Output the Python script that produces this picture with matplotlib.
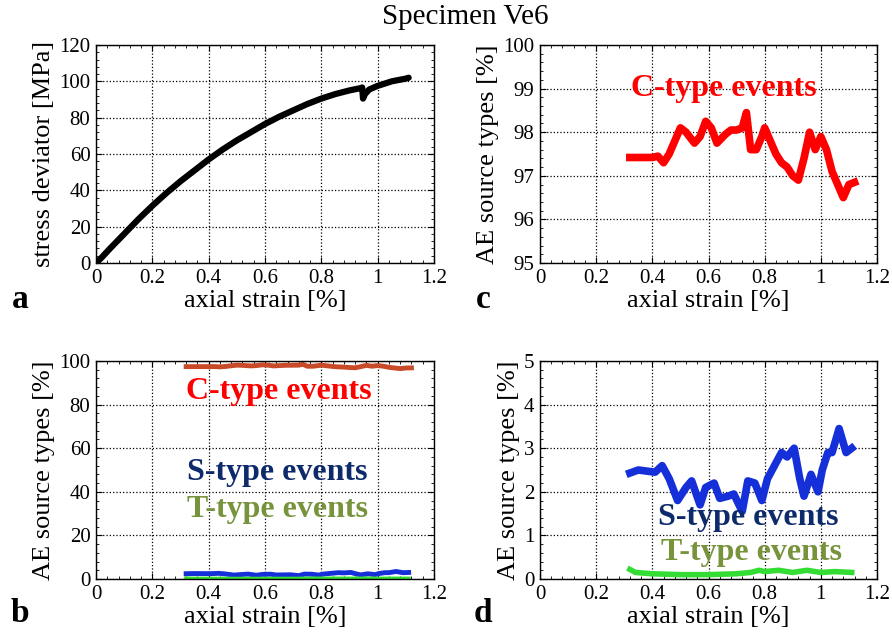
import numpy as np
import matplotlib
matplotlib.use("Agg")
import matplotlib.pyplot as plt
from matplotlib.ticker import AutoMinorLocator

plt.rcParams['font.family'] = ['Liberation Serif', 'DejaVu Serif']

# panel a: stress-strain curve
strain_a = [0, 0.02, 0.05, 0.1, 0.15, 0.2, 0.25, 0.3, 0.35, 0.4, 0.45, 0.5, 0.55,
            0.6, 0.65, 0.7, 0.75, 0.8, 0.85, 0.9, 0.94, 0.945, 0.948, 0.955, 0.97,
            1.0, 1.05, 1.1, 1.11]
stress_a = [0, 3, 8, 16, 24, 31.5, 38.5, 45, 51, 57, 62.5, 67.5, 72,
            76.5, 80.5, 84, 87.5, 90.5, 93, 95, 96.3, 96.6, 90.5, 93, 95.5,
            97.5, 100, 101.5, 102]

# C-type events (%)
strain_c = [0.32, 0.36, 0.40, 0.42, 0.44, 0.46, 0.48, 0.50, 0.52, 0.55, 0.57, 0.59,
            0.61, 0.63, 0.66, 0.68, 0.70, 0.72, 0.735, 0.75, 0.77, 0.79, 0.80, 0.82,
            0.84, 0.86, 0.88, 0.90, 0.92, 0.94, 0.96, 0.98, 1.00, 1.02, 1.04, 1.06,
            1.08, 1.10, 1.12]
c_type = [97.42, 97.42, 97.42, 97.45, 97.3, 97.5, 97.8, 98.1, 98.0, 97.75, 97.9, 98.25,
          98.1, 97.75, 97.95, 98.05, 98.05, 98.1, 98.45, 97.6, 97.6, 97.9, 98.1, 97.8,
          97.5, 97.3, 97.2, 97.0, 96.9, 97.4, 98.0, 97.6, 97.9, 97.6, 97.1, 96.8,
          96.5, 96.8, 96.85]

# S-type events (%)
strain_s = [0.32, 0.35, 0.41, 0.435, 0.46, 0.49, 0.52, 0.54, 0.57, 0.59, 0.62, 0.64,
            0.67, 0.69, 0.72, 0.74, 0.765, 0.79, 0.81, 0.835, 0.86, 0.88, 0.905, 0.925,
            0.94, 0.965, 0.99, 1.005, 1.025, 1.04, 1.065, 1.09, 1.11]
s_type = [2.43, 2.5, 2.45, 2.6, 2.3, 1.8, 2.1, 2.25, 1.7, 2.1, 2.2, 1.85,
          1.9, 1.95, 1.55, 2.25, 2.2, 1.8, 2.3, 2.6, 2.9, 2.8, 3.0, 2.3,
          1.9, 2.4, 2.0, 2.5, 2.9, 2.9, 3.45, 2.9, 3.0]

# T-type events (%)
strain_t = [0.32, 0.34, 0.40, 0.50, 0.60, 0.70, 0.75, 0.78, 0.80, 0.85, 0.90, 0.95,
            1.00, 1.05, 1.11]
t_type = [0.22, 0.15, 0.12, 0.1, 0.1, 0.12, 0.15, 0.2, 0.17, 0.2, 0.15, 0.2,
          0.15, 0.17, 0.15]

xticks = [0, 0.2, 0.4, 0.6, 0.8, 1, 1.2]
xtick_labels = ['0', '0.2', '0.4', '0.6', '0.8', '1', '1.2']

red = '#ff0000'
brick = '#c84a28'
blue = '#1530d8'
green = '#33dd33'
navy = '#0d2a6b'
olive = '#77933c'

fig = plt.figure(figsize=(8.92, 6.43), dpi=100)
W, H = 892, 643


def make_ax(l, t, r, b):
    return fig.add_axes([l / W, 1 - b / H, (r - l) / W, (b - t) / H])


ax_a = make_ax(96, 45, 434, 263)
ax_c = make_ax(540, 45, 877, 263)
ax_b = make_ax(96, 361, 434, 579)
ax_d = make_ax(540, 361, 877, 579)

for ax in (ax_a, ax_b, ax_c, ax_d):
    ax.set_xlim(0, 1.2)
    ax.set_xticks(xticks)
    ax.set_xticklabels(xtick_labels)
    ax.xaxis.set_minor_locator(AutoMinorLocator(5))
    ax.yaxis.set_minor_locator(AutoMinorLocator(5))
    ax.tick_params(which='both', direction='in', top=True, right=True,
                   labelsize=15, pad=4)
    ax.tick_params(which='major', length=4)
    ax.tick_params(which='minor', length=2)
    ax.grid(True, linestyle=':', color='black', linewidth=0.9)
    ax.set_xlabel('axial strain [%]', fontsize=19, labelpad=2)
    for sp in ax.spines.values():
        sp.set_linewidth(1.0)

# a
ax_a.plot(strain_a, stress_a, color='black', linewidth=4.5, solid_capstyle='round')
ax_a.set_ylim(0, 120)
ax_a.set_yticks(range(0, 121, 20))
ax_a.set_ylabel('stress deviator [MPa]', fontsize=19, labelpad=3)

# c
ax_c.plot(strain_c, c_type, color=red, linewidth=5.5)
ax_c.set_ylim(95, 100)
ax_c.set_yticks(range(95, 101))
ax_c.set_ylabel('AE source types [%]', fontsize=19, labelpad=3)
ax_c.text(0.653, 99.0, 'C-type events', color=red, fontsize=23, fontweight='bold',
          ha='center', va='center')

# b
ax_b.plot(strain_c, c_type, color=brick, linewidth=3.5)
ax_b.plot(strain_s, s_type, color=blue, linewidth=3.5)
ax_b.plot(strain_t, t_type, color=green, linewidth=3)
ax_b.set_ylim(0, 100)
ax_b.set_yticks(range(0, 101, 20))
ax_b.set_ylabel('AE source types [%]', fontsize=19, labelpad=3)
ax_b.text(0.65, 86, 'C-type events', color=red, fontsize=23, fontweight='bold',
          ha='center', va='center')
ax_b.text(0.645, 49, 'S-type events', color=navy, fontsize=23, fontweight='bold',
          ha='center', va='center')
ax_b.text(0.645, 32, 'T-type events', color=olive, fontsize=23, fontweight='bold',
          ha='center', va='center')

# d
ax_d.plot(strain_s, s_type, color=blue, linewidth=5.5)
ax_d.plot(strain_t, t_type, color=green, linewidth=4)
ax_d.set_ylim(0, 5)
ax_d.set_yticks(range(0, 6))
ax_d.set_ylabel('AE source types [%]', fontsize=19, labelpad=3)
ax_d.text(0.741, 1.4, 'S-type events', color=navy, fontsize=23, fontweight='bold',
          ha='center', va='center')
ax_d.text(0.752, 0.6, 'T-type events', color=olive, fontsize=23, fontweight='bold',
          ha='center', va='center')

fig.text(465 / W, 1 - 17 / H, 'Specimen Ve6', fontsize=21, ha='center', va='center')
for letter, x, y in (('a', 20, 300), ('c', 483, 300), ('b', 20, 614), ('d', 483, 614)):
    fig.text(x / W, 1 - y / H, letter, fontsize=24, fontweight='bold',
             ha='center', va='center')

fig.savefig('out.png', dpi=100)
